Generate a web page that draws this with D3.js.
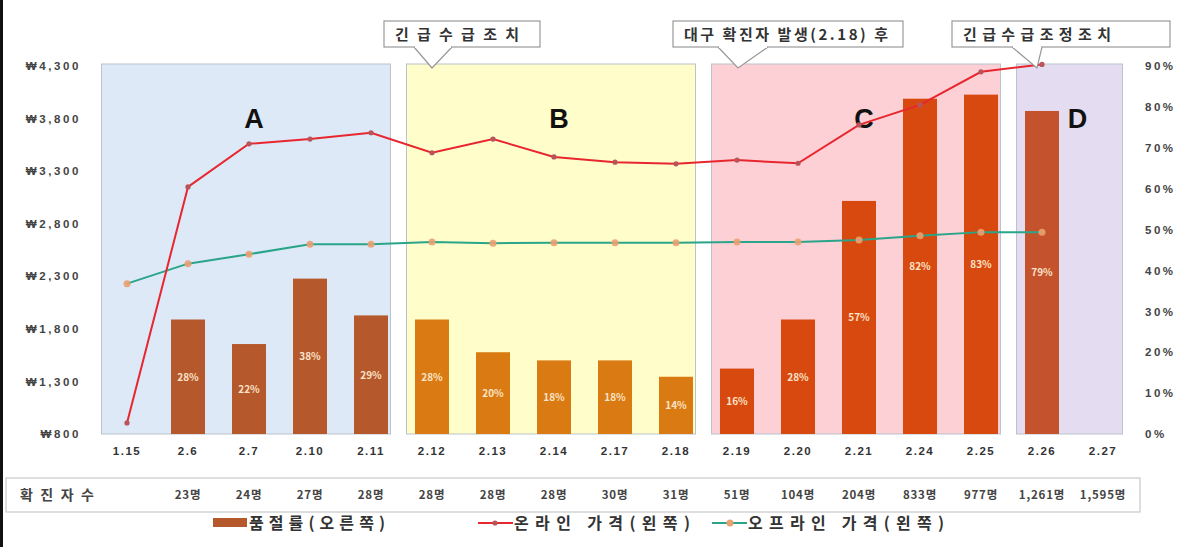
<!DOCTYPE html>
<html><head><meta charset="utf-8">
<script src="https://cdn.jsdelivr.net/npm/d3@7"></script>
<style>
html,body{margin:0;padding:0;background:#fff;}
svg{display:block;font-family:"Noto Sans CJK KR","Noto Sans",sans-serif;}
</style></head>
<body><svg id="c" width="1180" height="547"></svg>
<script>
const categories = ["1.15","2.6","2.7","2.10","2.11","2.12","2.13","2.14","2.17","2.18","2.19","2.20","2.21","2.24","2.25","2.26","2.27"];
const soldOutRate = [null,28,22,38,29,28,20,18,18,14,16,28,57,82,83,79,null];
const soldOutLabels = ["","28%","22%","38%","29%","28%","20%","18%","18%","14%","16%","28%","57%","82%","83%","79%",""];
const onlinePrice = [905,3150,3560,3605,3665,3475,3605,3435,3385,3370,3405,3375,3740,3930,4245,4315,null];
const offlinePrice = [2230,2420,2510,2605,2605,2625,2615,2620,2620,2620,2625,2625,2645,2685,2720,2720,null];
const confirmed = ["","23명","24명","27명","28명","28명","28명","28명","30명","31명","51명","104명","204명","833명","977명","1,261명","1,595명"];
const leftTicks = [800,1300,1800,2300,2800,3300,3800,4300];
const rightTicks = [0,10,20,30,40,50,60,70,80,90];
const regionLabels = ["A","B","C","D"];
const regionFrom = ["1.15","2.12","2.19","2.26"];
const regionTo = ["2.11","2.18","2.25","2.27"];
const regionFill = ["#dde9f6","#fffdc9","#fdd0d5","#e4dcf0"];
const barColors = ["#b5582c","#d97b12","#d8490f","#c4532d"];
const notes = ["긴급수급조치","대구 확진자 발생(2.18) 후","긴급수급조정조치"];
const noteTarget = ["2.12","2.19","2.26"];
const tableTitle = "확진자수";
const legendLabels = ["품절률(오른쪽)","온라인 가격(왼쪽)","오프라인 가격(왼쪽)"];

const svg = d3.select("#c");
const yTop = 66, yBot = 434;
const x = d3.scaleBand().domain(categories).range([96.5,1133.5]).padding(0);
const bw = x.bandwidth();
const cx = c => x(c) + bw/2;
const yL = d3.scaleLinear().domain([800,4300]).range([yBot,yTop]);
const yR = d3.scaleLinear().domain([0,90]).range([yBot,yTop]);

// left black border
svg.append("rect").attr("x",0).attr("y",0).attr("width",3).attr("height",547).attr("fill","#111");

const regionIndex = c => {
  const i = categories.indexOf(c);
  for (let r=0;r<regionFrom.length;r++){
    if (i>=categories.indexOf(regionFrom[r]) && i<=categories.indexOf(regionTo[r])) return r;
  }
  return 0;
};
const regionX0 = r => x(regionFrom[r]) + 5;
const regionX1 = r => x(regionTo[r]) + bw - 11;
regionLabels.forEach((lab,r)=>{
  svg.append("rect").attr("x",regionX0(r)).attr("y",yTop-2).attr("width",regionX1(r)-regionX0(r)).attr("height",yBot-yTop+2)
    .attr("fill",regionFill[r]).attr("stroke","#b9c3cc").attr("stroke-width",1);
});

// bars
const barW = 34;
categories.forEach((c,i)=>{
  const v = soldOutRate[i];
  if (v==null) return;
  svg.append("rect").attr("x",cx(c)-barW/2).attr("y",yR(v)).attr("width",barW).attr("height",yR(0)-yR(v))
    .attr("fill",barColors[regionIndex(c)]);
  svg.append("text").attr("x",cx(c)).attr("y",(yR(v)+yR(0))/2+4).attr("text-anchor","middle")
    .attr("font-size",10).attr("font-weight",700).attr("fill","#fbe3c8").text(soldOutLabels[i]);
});

// region letters
regionLabels.forEach((lab,r)=>{
  svg.append("text").attr("x",(regionX0(r)+regionX1(r))/2+8).attr("y",128).attr("text-anchor","middle")
    .attr("font-size",27).attr("font-weight",700).attr("font-family","Liberation Sans, Arial, sans-serif")
    .attr("fill","#111").text(lab);
});

// offline line
const offData = categories.map((c,i)=>({c,v:offlinePrice[i]})).filter(d=>d.v!=null);
svg.append("path").datum(offData)
  .attr("d",d3.line().x(d=>cx(d.c)).y(d=>yL(d.v)))
  .attr("fill","none").attr("stroke","#2aa58a").attr("stroke-width",2);
svg.selectAll(".offm").data(offData).enter().append("circle")
  .attr("cx",d=>cx(d.c)).attr("cy",d=>yL(d.v)).attr("r",3.5).attr("fill","#eaa071").attr("opacity",0.9);

// online line
const onData = categories.map((c,i)=>({c,v:onlinePrice[i]})).filter(d=>d.v!=null);
svg.append("path").datum(onData)
  .attr("d",d3.line().x(d=>cx(d.c)).y(d=>yL(d.v)))
  .attr("fill","none").attr("stroke","#e8262f").attr("stroke-width",2);
svg.selectAll(".onm").data(onData).enter().append("circle")
  .attr("cx",d=>cx(d.c)).attr("cy",d=>yL(d.v)).attr("r",2.6).attr("fill","#b8555a");

// axes
const axL = svg.append("g").attr("transform","translate(81,0)")
  .call(d3.axisLeft(yL).tickValues(leftTicks).tickSize(0).tickPadding(0).tickFormat(v=>"₩"+d3.format(",")(v)));
axL.select(".domain").remove();
axL.selectAll("text").attr("font-size",11.5).attr("font-weight",700).attr("fill","#444")
  .attr("letter-spacing",2.6).attr("font-family","Liberation Sans, Arial, sans-serif");
const axR = svg.append("g").attr("transform","translate(1145,0)")
  .call(d3.axisRight(yR).tickValues(rightTicks).tickSize(0).tickPadding(0).tickFormat(v=>v+"%"));
axR.select(".domain").remove();
axR.selectAll("text").attr("font-size",11.5).attr("font-weight",700).attr("fill","#444")
  .attr("letter-spacing",2.5).attr("font-family","Liberation Sans, Arial, sans-serif");
const axX = svg.append("g").attr("transform",`translate(0,${yBot})`)
  .call(d3.axisBottom(x).tickSize(0).tickPadding(13));
axX.select(".domain").remove();
axX.selectAll("text").attr("font-size",11.5).attr("font-weight",700).attr("fill","#333")
  .attr("letter-spacing",1.5).attr("font-family","Liberation Sans, Arial, sans-serif");

// callouts
const boxes = [[384,540],[673,903],[952,1170]];
const wedge = [[414,452],[718,768],[1012,1042]];
const apexShift = [0,1,-5];
const noteLen = [124,204,148];
notes.forEach((t,k)=>{
  const [b0,b1] = boxes[k];
  const tx = cx(noteTarget[k]) + apexShift[k];
  const g = svg.append("g");
  g.append("rect").attr("x",b0).attr("y",21).attr("width",b1-b0).attr("height",26)
    .attr("fill","#fff").attr("stroke","#999").attr("stroke-width",1.2);
  g.append("path").attr("d",`M${wedge[k][0]},47 L${tx},${yTop+2} L${wedge[k][1]},47`)
    .attr("fill","#fff").attr("stroke","#999").attr("stroke-width",1.2);
  g.append("line").attr("x1",wedge[k][0]+1).attr("x2",wedge[k][1]-1).attr("y1",47).attr("y2",47)
    .attr("stroke","#fff").attr("stroke-width",2);
  g.append("text").attr("x",b0+11).attr("y",40).attr("font-size",15).attr("font-weight",700)
    .attr("textLength",noteLen[k]).attr("lengthAdjust","spacing")
    .attr("fill","#333").text(t);
});

// table
svg.append("rect").attr("x",6).attr("y",478).attr("width",1134).attr("height",34)
  .attr("fill","#fff").attr("stroke","#c8c8c8").attr("stroke-width",1.2);
svg.append("text").attr("x",20).attr("y",500).attr("font-size",14).attr("font-weight",700)
  .attr("textLength",74).attr("lengthAdjust","spacing")
  .attr("fill","#444").text(tableTitle);
categories.forEach((c,i)=>{
  svg.append("text").attr("x",cx(c)).attr("y",499).attr("text-anchor","middle")
    .attr("font-size",11.5).attr("font-weight",700).attr("fill","#444").attr("letter-spacing",0.8).text(confirmed[i]);
});

// legend
const ly = 523;
const legLen = [136,176,196];
svg.append("rect").attr("x",213).attr("y",ly-5).attr("width",34).attr("height",9).attr("fill",barColors[0]);
svg.append("text").attr("x",249).attr("y",ly+6).attr("font-size",16).attr("font-weight",700).attr("fill","#333")
  .attr("textLength",legLen[0]).attr("lengthAdjust","spacing").text(legendLabels[0]);
svg.append("line").attr("x1",478).attr("x2",513).attr("y1",ly).attr("y2",ly).attr("stroke","#e8262f").attr("stroke-width",2);
svg.append("circle").attr("cx",495).attr("cy",ly).attr("r",2.6).attr("fill","#b8555a");
svg.append("text").attr("x",514).attr("y",ly+6).attr("font-size",16).attr("font-weight",700).attr("fill","#333")
  .attr("textLength",legLen[1]).attr("lengthAdjust","spacing").text(legendLabels[1]);
svg.append("line").attr("x1",712).attr("x2",747).attr("y1",ly).attr("y2",ly).attr("stroke","#2aa58a").attr("stroke-width",2);
svg.append("circle").attr("cx",730).attr("cy",ly).attr("r",3.5).attr("fill","#eaa071");
svg.append("text").attr("x",748).attr("y",ly+6).attr("font-size",16).attr("font-weight",700).attr("fill","#333")
  .attr("textLength",legLen[2]).attr("lengthAdjust","spacing").text(legendLabels[2]);
</script></body></html>
